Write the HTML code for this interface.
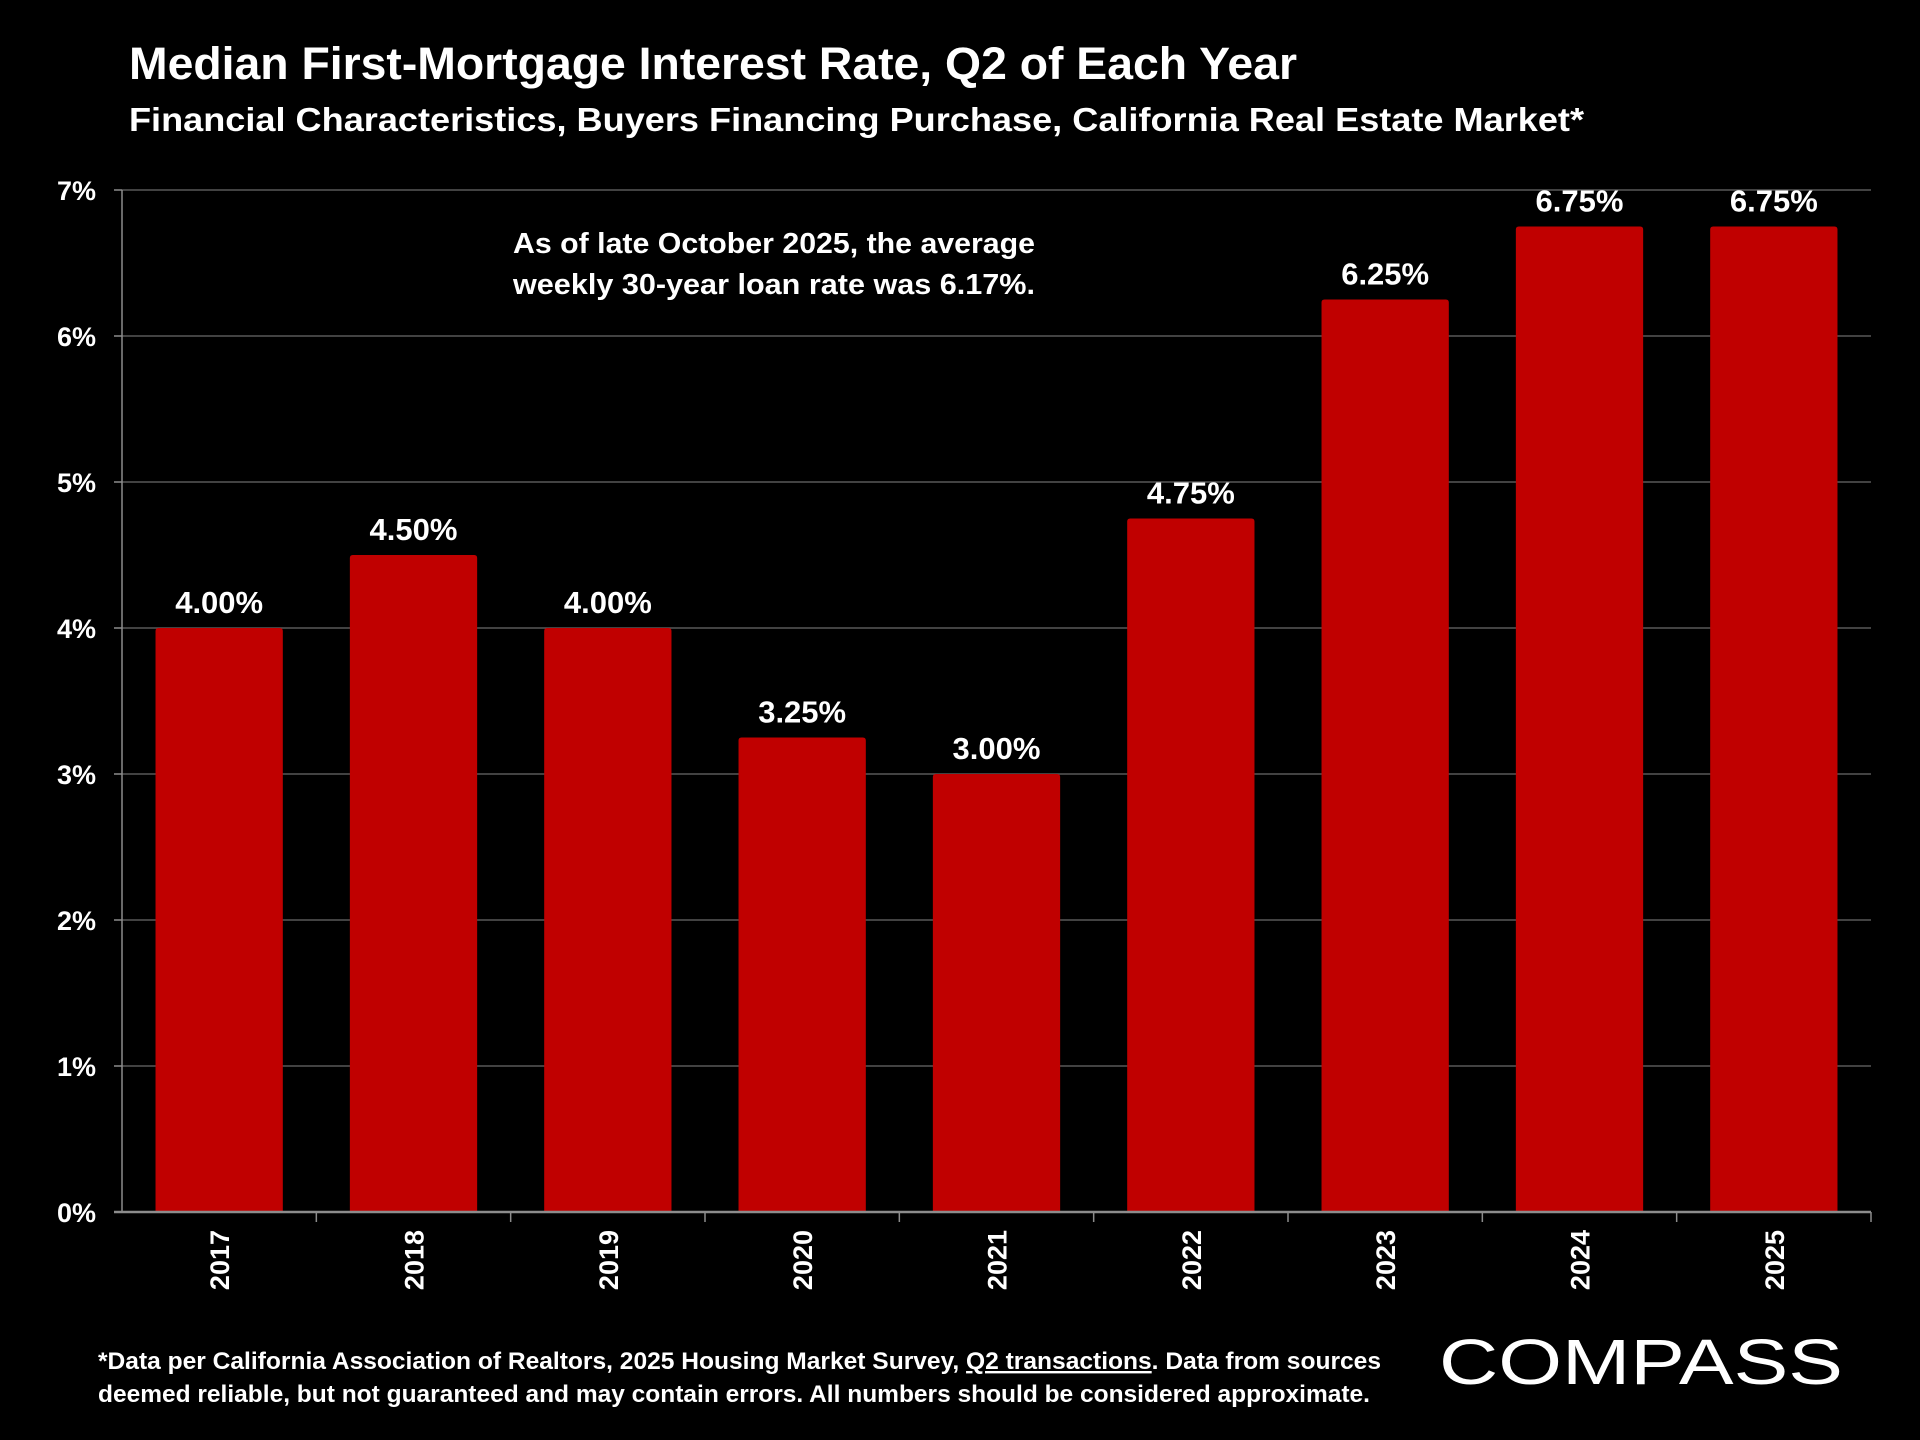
<!DOCTYPE html>
<html><head><meta charset="utf-8"><style>
html,body{margin:0;padding:0;background:#000;}
svg{display:block;font-family:"Liberation Sans",sans-serif;}
</style></head><body>
<svg id="chart" width="1920" height="1440" viewBox="0 0 1920 1440" xmlns="http://www.w3.org/2000/svg">
<rect width="1920" height="1440" fill="#000"/>
<text x="129" y="79" fill="#fff" font-size="45" font-weight="bold" textLength="1168" lengthAdjust="spacingAndGlyphs">Median First-Mortgage Interest Rate, Q2 of Each Year</text>
<text x="129" y="131" fill="#fff" font-size="33" font-weight="bold" textLength="1455" lengthAdjust="spacingAndGlyphs">Financial Characteristics, Buyers Financing Purchase, California Real Estate Market*</text>
<g id="grid"></g>
<g id="bars"></g>
<g id="yticks"></g>
<g id="xticks"></g>
<g fill="#fff" font-size="29" font-weight="bold">
<text x="513" y="253" textLength="522" lengthAdjust="spacingAndGlyphs">As of late October 2025, the average</text>
<text x="513" y="294" textLength="522" lengthAdjust="spacingAndGlyphs">weekly 30-year loan rate was 6.17%.</text>
</g>
<g fill="#fff" font-size="24" font-weight="bold">
<text x="98" y="1369" textLength="1283" lengthAdjust="spacingAndGlyphs">*Data per California Association of Realtors, 2025 Housing Market Survey, <tspan text-decoration="underline">Q2 transactions</tspan>. Data from sources</text>
<text x="98" y="1402" textLength="1272" lengthAdjust="spacingAndGlyphs">deemed reliable, but not guaranteed and may contain errors. All numbers should be considered approximate.</text>
</g>
<text x="1439" y="1384" fill="#fff" font-size="64" textLength="404" lengthAdjust="spacingAndGlyphs">COMPASS</text>
</svg>
<script>
const categories = ["2017","2018","2019","2020","2021","2022","2023","2024","2025"];
const values = [4.00,4.50,4.00,3.25,3.00,4.75,6.25,6.75,6.75];
const valueLabels = ["4.00%","4.50%","4.00%","3.25%","3.00%","4.75%","6.25%","6.75%","6.75%"];
const yTicks = [0,1,2,3,4,5,6,7];
const yTickLabels = ["0%","1%","2%","3%","4%","5%","6%","7%"];

const NS="http://www.w3.org/2000/svg";
const X0=122, X1=1871, Y0=1212, Y1=190, YMAX=7;
const band=(X1-X0)/categories.length;
const y=v=>Y0-(v/YMAX)*(Y0-Y1);
const xc=i=>X0+band*(i+0.5);
function mk(tag,attrs,parent){const e=document.createElementNS(NS,tag);for(const k in attrs)e.setAttribute(k,attrs[k]);parent.appendChild(e);return e;}
const grid=document.getElementById('grid'),bars=document.getElementById('bars'),yt=document.getElementById('yticks'),xt=document.getElementById('xticks');
yTicks.forEach((t,i)=>{
  if(t>0){const l=mk('line',{x1:X0,x2:X1,y1:y(t),y2:y(t),stroke:'#595959','stroke-width':1.5},grid);
  
  }
  const tk=mk('line',{x1:X0-8,x2:X0,y1:y(t),y2:y(t),stroke:'#8c8c8c','stroke-width':1.5},yt);
  
  
  const tx=mk('text',{x:96,y:y(t)+10,fill:'#fff','font-size':27,'font-weight':'bold','text-anchor':'end'},yt);
  tx.textContent=yTickLabels[i];
  
  
});
mk('line',{x1:X0,x2:X0,y1:Y1,y2:Y0,stroke:'#8c8c8c','stroke-width':1.5},yt);
const bw=band*0.655;
categories.forEach((c,i)=>{
  const top=y(values[i]);
  const r=mk('path',{d:`M${xc(i)-bw/2},${Y0} V${top+3} Q${xc(i)-bw/2},${top} ${xc(i)-bw/2+3},${top} H${xc(i)+bw/2-3} Q${xc(i)+bw/2},${top} ${xc(i)+bw/2},${top+3} V${Y0} Z`,fill:'#c00000'},bars);
  
  
  const lb=mk('text',{x:xc(i),y:top-15,fill:'#fff','font-size':31,'font-weight':'bold','text-anchor':'middle'},bars);
  lb.textContent=valueLabels[i];
  
  
  const tk=mk('line',{x1:X0+band*(i+1),x2:X0+band*(i+1),y1:Y0,y2:Y0+10,stroke:'#8c8c8c','stroke-width':1.5},xt);
  
  
  const xl=mk('text',{x:0,y:0,fill:'#fff','font-size':27,'font-weight':'bold','text-anchor':'end',transform:`translate(${xc(i)+10},1230) rotate(-90)`},xt);
  xl.textContent=c;
  
  
});
mk('line',{x1:X0-8,x2:X1,y1:Y0,y2:Y0,stroke:'#8c8c8c','stroke-width':2.5},xt);
</script>
</body></html>
